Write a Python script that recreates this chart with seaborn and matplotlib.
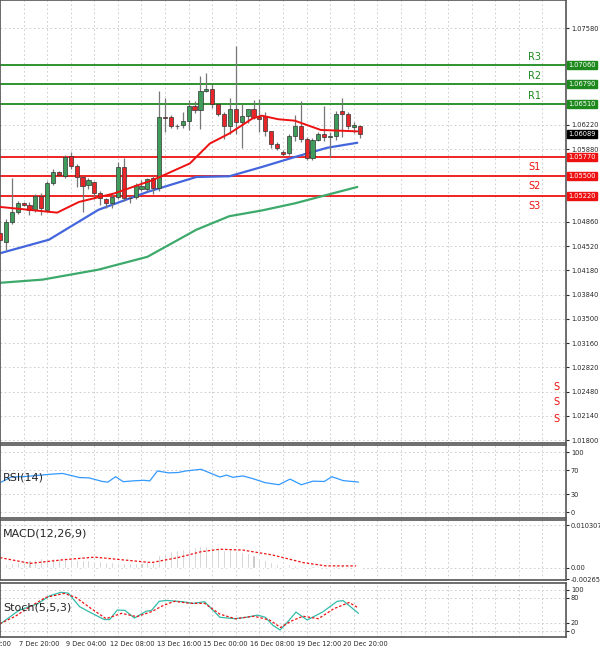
import matplotlib
matplotlib.use("Agg")
import matplotlib.pyplot as plt
import seaborn as sns
import numpy as np
import pandas as pd

sns.set_style("white")
plt.rcParams["font.family"] = "DejaVu Sans"

# ---- candles (4h) ----
opens = [1.0470, 1.0458, 1.0486, 1.0500, 1.0512, 1.0510, 1.0503, 1.0523, 1.0503, 1.0541,
         1.0556, 1.0550, 1.0578, 1.0564, 1.0549, 1.0538, 1.0542, 1.0527, 1.0518, 1.0512,
         1.0521, 1.0563, 1.0520, 1.0521, 1.0532, 1.0532, 1.0547, 1.0533, 1.0633, 1.0633,
         1.0621, 1.0622, 1.0627, 1.0648, 1.0643, 1.0669, 1.0672, 1.0651, 1.0637, 1.0620,
         1.0644, 1.0626, 1.0635, 1.0644, 1.0633, 1.0634, 1.0613, 1.0595, 1.0584, 1.0582,
         1.0606, 1.0621, 1.0602, 1.0576, 1.0601, 1.0609, 1.0605, 1.0606, 1.0641, 1.0637,
         1.0619, 1.0621]
closes = [1.0461, 1.0486, 1.0500, 1.0512, 1.0510, 1.0503, 1.0522, 1.0505, 1.0541, 1.0556,
          1.0552, 1.0577, 1.0564, 1.0549, 1.0537, 1.0545, 1.0527, 1.0519, 1.0512, 1.0521,
          1.0563, 1.0520, 1.0519, 1.0538, 1.0536, 1.0546, 1.0533, 1.0633, 1.0632, 1.0621,
          1.0620, 1.0627, 1.0649, 1.0643, 1.0669, 1.0672, 1.0651, 1.0637, 1.0621, 1.0644,
          1.0626, 1.0635, 1.0644, 1.0633, 1.0630, 1.0613, 1.0595, 1.0590, 1.0581, 1.0606,
          1.0621, 1.0602, 1.0576, 1.0601, 1.0609, 1.0605, 1.0607, 1.0638, 1.0638, 1.0621,
          1.0622, 1.0609]
highs = [1.0474, 1.0490, 1.0547, 1.0515, 1.0514, 1.0514, 1.0525, 1.0526, 1.0543, 1.0560,
         1.0558, 1.0580, 1.0584, 1.0567, 1.0550, 1.0547, 1.0544, 1.0530, 1.0520, 1.0526,
         1.0570, 1.0576, 1.0522, 1.0540, 1.0545, 1.0548, 1.0550, 1.0669, 1.0660, 1.0636,
         1.0624, 1.0640, 1.0657, 1.0656, 1.0690, 1.0695, 1.0680, 1.0652, 1.0640, 1.0660,
         1.0733, 1.0652, 1.0645, 1.0657, 1.0658, 1.0640, 1.0614, 1.0598, 1.0587, 1.0610,
         1.0636, 1.0655, 1.0605, 1.0603, 1.0612, 1.0649, 1.0612, 1.0642, 1.0660, 1.0640,
         1.0626, 1.0622]
lows = [1.0458, 1.0447, 1.0483, 1.0497, 1.0508, 1.0496, 1.0500, 1.0496, 1.0500, 1.0538,
        1.0550, 1.0548, 1.0560, 1.0535, 1.0500, 1.0532, 1.0518, 1.0510, 1.0505, 1.0506,
        1.0518, 1.0515, 1.0512, 1.0518, 1.0530, 1.0530, 1.0525, 1.0530, 1.0612, 1.0618,
        1.0617, 1.0618, 1.0615, 1.0639, 1.0617, 1.0668, 1.0646, 1.0635, 1.0602, 1.0610,
        1.0610, 1.0589, 1.0625, 1.0630, 1.0612, 1.0607, 1.0590, 1.0587, 1.0578, 1.0580,
        1.0600, 1.0598, 1.0573, 1.0573, 1.0600, 1.0600, 1.0577, 1.0601, 1.0605, 1.0617,
        1.0611, 1.0604]

# ---- moving averages (sampled at candle index) ----
ma_red_x = [1, 10.7, 14.4, 20.4, 27, 33.2, 36.6, 39.9, 43.8, 45.4, 48.2, 51, 55.4, 61.6]
ma_red_y = [1.0507, 1.0499, 1.0514, 1.0526, 1.0545, 1.0568, 1.0596, 1.0610, 1.0631, 1.0635,
            1.0630, 1.0628, 1.0615, 1.0613]
ma_blue_x = [-8, 1, 9.3, 17.7, 26, 34.3, 39.9, 45.4, 51, 56.5, 61.6]
ma_blue_y = [1.0420, 1.0442, 1.0461, 1.0503, 1.0528, 1.0549, 1.0550, 1.0563, 1.0577, 1.0590, 1.0597]
ma_green_x = [-8, 8.2, 17.7, 26, 34.3, 39.9, 45.4, 51, 56.5, 61.6]
ma_green_y = [1.0395, 1.0405, 1.0419, 1.0437, 1.0475, 1.0494, 1.0502, 1.0512, 1.0524, 1.0535]

levels = {"R3": 1.0706, "R2": 1.0679, "R1": 1.0651, "S1": 1.0577, "S2": 1.0550, "S3": 1.0522}
last_price = 1.06089
price_ticks = [1.07580, 1.06220, 1.05880, 1.04860, 1.04520, 1.04180, 1.03840, 1.03500,
               1.03160, 1.02820, 1.02480, 1.02140, 1.01800]
date_labels = ["7 Dec 20:00", "9 Dec 04:00", "12 Dec 08:00", "13 Dec 16:00",
               "15 Dec 00:00", "16 Dec 08:00", "19 Dec 12:00", "20 Dec 20:00"]
date_pos = [7.7, 15.6, 23.5, 31.4, 39.3, 47.2, 55.1, 63.0]

# ---- RSI ----
rsi_x = [1, 2.9, 4.9, 9.4, 11.6, 14.5, 16.1, 18.4, 19.3, 20.6, 21.9, 23.5, 25.4, 26.4, 27.7,
         29.6, 31.2, 32.5, 35.1, 38.3, 39.4, 40.5, 42.2, 43.8, 46, 48.3, 50.2, 52.1, 54.1,
         56, 57.3, 59.2, 61.8]
rsi_y = [49, 58.5, 59, 63, 64.5, 57.6, 57, 51, 50, 59, 50.7, 52, 53, 52, 68.6, 65.4, 66, 68.6,
         71.4, 58.5, 61.7, 58, 60.3, 56, 49, 45.6, 55, 45.6, 51.6, 51, 59, 52.5, 50]

# ---- MACD ----
macd_hist = [0.0005, 0.0010, 0.0012, 0.0015, 0.0018, 0.0020, 0.0022, 0.0024, 0.0024, 0.0023,
             0.0022, 0.0022, 0.0021, 0.0020, 0.0019, 0.0018, 0.0017, 0.0016, 0.0015, 0.0014,
             0.0013, 0.0013, 0.0012, 0.0012, 0.0012, 0.0015, 0.0015, 0.0030, 0.0035, 0.0040,
             0.0042, 0.0045, 0.0048, 0.0050, 0.0052, 0.0052, 0.0050, 0.0048, 0.0044, 0.0045,
             0.0040, 0.0038, 0.0035, 0.0030, 0.0025, 0.0020, 0.0015, 0.0010, 0.0008, 0.0009,
             0.0008, 0.0005, 0.0003, 0.0004, 0.0004, 0.0003, 0.0004, 0.0006, 0.0006, 0.0005,
             0.0004, 0.0003]
sig_x = [1, 6.1, 11.9, 17.1, 22.2, 26.7, 31.2, 35.1, 38.3, 42.2, 47.3, 52.4, 56.3, 61.4]
sig_y = [0.0025, 0.0011, 0.0020, 0.0026, 0.0019, 0.0013, 0.0025, 0.0039, 0.0045, 0.0043,
         0.0031, 0.0013, 0.0005, 0.0005]

# ---- Stochastic ----
st_x = [1, 4.2, 7.4, 9.4, 11.3, 12.6, 14.5, 16.4, 18.7, 19.6, 20.9, 22.2, 23.8, 25.8, 26.7,
        28, 29.3, 31.9, 33.8, 35.7, 38.3, 40.9, 42.8, 44.7, 46, 47.3, 48.5, 49.9, 51.2, 53.1,
        55.7, 58.2, 59.2, 61.8]
st_y = [17, 50, 66, 85, 93.5, 91.6, 59, 44.5, 28, 28, 51, 50, 31.6, 48, 50, 72, 74, 71, 67, 71,
        33.5, 30, 33.5, 38.7, 33.5, 14, 3, 24, 46, 27, 46, 72, 73.5, 43]
sts_x = [1, 3.6, 6.1, 8.7, 11.9, 13.9, 16.4, 19, 21.6, 24.2, 26.7, 28.7, 30.6, 33.2, 35.7,
         38.3, 40.9, 44.1, 46.7, 48.6, 50.5, 52.4, 55, 57.6, 60.2, 61.8]
sts_y = [18, 36, 59, 81, 91, 81, 55, 30, 43, 35, 47, 62, 72, 67, 67, 41, 30, 36, 27, 9, 25, 36,
         30, 54, 69, 56]

W, H = 600, 656
fig = plt.figure(figsize=(6, 6.56), dpi=100)
XR = 566
XLIM = (1, 1 + XR / 5.95)
FS = 4.8


def pax(top, bottom):
    return fig.add_axes([0, 1 - bottom / H, XR / W, (bottom - top) / H])


def style(ax):
    ax.set_xlim(*XLIM)
    ax.set_xticks(np.arange(1, 100, 4), minor=True)
    ax.grid(True, which="minor", axis="x", color="#c8c8c8", ls=(0, (2, 3)), lw=0.6)
    ax.grid(True, which="major", axis="y", color="#c8c8c8", ls=(0, (2, 3)), lw=0.6)
    ax.yaxis.tick_right()
    ax.tick_params(axis="y", labelsize=FS, length=2, pad=1.5)
    ax.set_xticks([])
    for s in ax.spines.values():
        s.set_color("#555555")
        s.set_linewidth(1.2)


# main panel
ax = pax(0, 443)
style(ax)
ax.set_ylim(1.01758, 1.07973)
idx = np.arange(1, len(opens) + 1)
df = pd.DataFrame({"i": idx, "o": opens, "c": closes, "h": highs, "l": lows})
ax.vlines(df.i, df.l, df.h, color="#777777", lw=0.9, zorder=3)
up = df.c >= df.o
for mask, col in [(up, "#3f9c5a"), (~up, "#e8262a")]:
    d = df[mask]
    ax.bar(d.i, (d.c - d.o).abs().clip(lower=0.00008), bottom=np.minimum(d.o, d.c),
           width=0.7, color=col, edgecolor="#333333", lw=0.5, zorder=4)
sns.lineplot(x=ma_green_x, y=ma_green_y, ax=ax, color="#3daa6b", lw=1.6, zorder=2)
sns.lineplot(x=ma_blue_x, y=ma_blue_y, ax=ax, color="#4466dd", lw=1.6, zorder=2)
sns.lineplot(x=ma_red_x, y=ma_red_y, ax=ax, color="#ee1111", lw=1.4, zorder=5)
for name, v in levels.items():
    col = "#1e8a1e" if name.startswith("R") else "#ee1111"
    ax.axhline(v, color=col, lw=1.3, zorder=1)
    ax.text(533 / XR * (XLIM[1] - XLIM[0]) + XLIM[0], v - 0.0007 if name.startswith("S") else v + 0.0004,
            name, color=col, fontsize=7, va="top" if name.startswith("S") else "bottom")
ax.set_yticks(price_ticks)
ax.set_yticklabels([f"{t:.5f}" for t in price_ticks])
for name, v in levels.items():
    col = "#1e8a1e" if name.startswith("R") else "#ee1111"
    ax.annotate(f"{v:.5f}", xy=(1.004, v), xycoords=("axes fraction", "data"), fontsize=FS,
                color="white", va="center", ha="left",
                bbox=dict(boxstyle="square,pad=0.15", fc=col, ec=col))
ax.annotate(f"{last_price:.5f}", xy=(1.004, last_price), xycoords=("axes fraction", "data"),
            fontsize=FS, color="white", va="center", ha="left",
            bbox=dict(boxstyle="square,pad=0.15", fc="black", ec="black"))
for yy in [1.0255, 1.0233, 1.0210]:
    ax.text(XLIM[0] + 558 / 5.95, yy, "S", color="#ee1111", fontsize=7, va="center")

# RSI
ax1 = pax(445, 518)
style(ax1)
ax1.set_ylim(-10, 112)
sns.lineplot(x=rsi_x, y=rsi_y, ax=ax1, color="#3399ff", lw=0.9)
ax1.set_yticks([0, 30, 70, 100])
ax1.text(0.005, 0.55, "RSI(14)", transform=ax1.transAxes, fontsize=8, va="center")

# MACD
ax2 = pax(520, 580)
style(ax2)
ax2.set_ylim(-0.00288, 0.01151)
ax2.bar(idx, macd_hist, width=0.35, color="#c0c0c0")
sns.lineplot(x=sig_x, y=sig_y, ax=ax2, color="#ee1111", lw=0.9, ls=(0, (2, 1.5)))
ax2.set_yticks([0.010307, 0.0, -0.00265])
ax2.set_yticklabels(["0.010307", "0.00", "-0.00265"])
ax2.text(0.005, 0.78, "MACD(12,26,9)", transform=ax2.transAxes, fontsize=8, va="center")

# Stochastic
ax3 = pax(583, 637)
style(ax3)
ax3.set_ylim(-14, 116)
sns.lineplot(x=st_x, y=st_y, ax=ax3, color="#33bbaa", lw=0.9)
sns.lineplot(x=sts_x, y=sts_y, ax=ax3, color="#ee1111", lw=0.9, ls=(0, (2, 1.5)))
ax3.set_yticks([0, 20, 80, 100])
ax3.text(0.005, 0.55, "Stoch(5,5,3)", transform=ax3.transAxes, fontsize=8, va="center")
for p, lab in zip(date_pos, date_labels):
    ax3.text(p, -0.08, lab, transform=ax3.get_xaxis_transform(), fontsize=FS,
             ha="center", va="top")
ax3.text(XLIM[0] - 0.6, -0.08, "2:00", transform=ax3.get_xaxis_transform(), fontsize=FS,
         ha="left", va="top")

fig.savefig("out.png", dpi=100, facecolor="white")
